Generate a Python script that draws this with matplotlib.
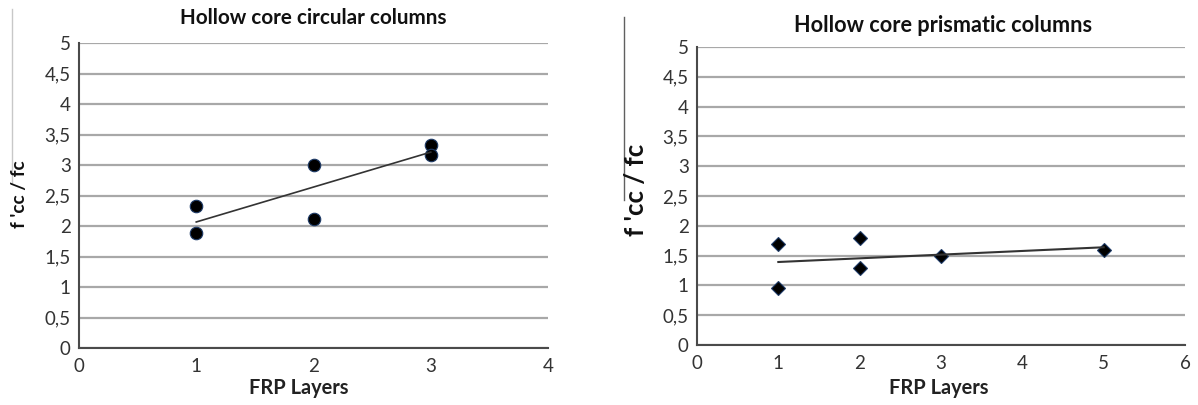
import matplotlib
matplotlib.use("Agg")
import matplotlib.pyplot as plt
from matplotlib.lines import Line2D
import numpy as np

plt.rcParams['font.family'] = ['Lato', 'DejaVu Sans']

# Data
circ_x = [1, 1, 2, 2, 3, 3]
circ_y = [2.33, 1.88, 3.00, 2.12, 3.33, 3.17]
pris_x = [1, 1, 2, 2, 3, 5]
pris_y = [1.70, 0.95, 1.80, 1.30, 1.50, 1.60]

circ_title = "Hollow core circular columns"
pris_title = "Hollow core prismatic columns"
xlabel = "FRP Layers"
ylabel = "f 'cc / fc"
yticks = [0, 0.5, 1, 1.5, 2, 2.5, 3, 3.5, 4, 4.5, 5]
ytick_labels = ["0", "0,5", "1", "1,5", "2", "2,5", "3", "3,5", "4", "4,5", "5"]

W, H = 1198, 405
fig = plt.figure(figsize=(W / 100, H / 100), dpi=100)

def px_axes(l, t, r, b):
    return fig.add_axes([l / W, 1 - b / H, (r - l) / W, (b - t) / H])

ax1 = px_axes(79, 43, 548, 348)
ax2 = px_axes(697, 47, 1185, 345)

def style(ax, xmax, xticks):
    ax.set_xlim(0, xmax)
    ax.set_ylim(0, 5)
    ax.set_yticks(yticks)
    ax.set_yticklabels(ytick_labels)
    ax.set_xticks(xticks)
    ax.set_xticklabels([str(t) for t in xticks])
    ax.tick_params(length=0, labelsize=13.5, colors='#333333')
    ax.tick_params(axis='y', pad=6)
    ax.tick_params(axis='x', pad=7)
    for s in ['top', 'right']:
        ax.spines[s].set_visible(False)
    for s in ['left', 'bottom']:
        ax.spines[s].set_color('#4a4a4a')
        ax.spines[s].set_linewidth(1.5)
    ax.yaxis.grid(True, color='#a8a8a8', linewidth=1.6)
    ax.set_axisbelow(True)

style(ax1, 4, [0, 1, 2, 3, 4])
style(ax2, 6, [0, 1, 2, 3, 4, 5, 6])

# Circular
ax1.plot(circ_x, circ_y, 'o', color='black', markersize=9,
         markeredgecolor='#1d3a66', markeredgewidth=0.8, zorder=3)
c1 = np.polyfit(circ_x, circ_y, 1)
xs1 = np.array([min(circ_x), max(circ_x)])
ax1.plot(xs1, np.polyval(c1, xs1), color='#333333', linewidth=1.2, zorder=4)

# Prismatic
ax2.plot(pris_x, pris_y, 'D', color='black', markersize=7,
         markeredgecolor='#1d3a66', markeredgewidth=0.8, zorder=3)
c2 = np.polyfit(pris_x, pris_y, 1)
xs2 = np.array([min(pris_x), max(pris_x)])
ax2.plot(xs2, np.polyval(c2, xs2), color='#333333', linewidth=1.5, zorder=4)

# Titles and labels (figure pixel coordinates)
def ftext(x, y, s, **kw):
    fig.text(x / W, 1 - y / H, s, **kw)

ftext(313, 18, circ_title, ha='center', va='center', fontsize=14.9, fontweight='bold', color='#111111')
ftext(943, 26, pris_title, ha='center', va='center', fontsize=15.6, fontweight='bold', color='#111111')
ftext(299, 388, xlabel, ha='center', va='center', fontsize=14.4, fontweight='bold', color='#222222')
ftext(939, 388, xlabel, ha='center', va='center', fontsize=14.4, fontweight='bold', color='#222222')
ftext(19, 194, ylabel, ha='center', va='center', rotation=90, fontsize=13.7, fontweight='bold', color='#111111')
ftext(636, 190, ylabel, ha='center', va='center', rotation=90, fontsize=18.5, fontweight='bold', color='#111111')

# Thin edge lines seen in the reference
fig.add_artist(Line2D([12 / W, 12 / W], [1 - 9 / H, 1 - 183 / H], transform=fig.transFigure,
                      color='#c8c8c8', linewidth=1.0))
fig.add_artist(Line2D([624 / W, 624 / W], [1 - 17 / H, 1 - 200 / H], transform=fig.transFigure,
                      color='#606060', linewidth=1.0))

fig.savefig("out.png", dpi=100)
